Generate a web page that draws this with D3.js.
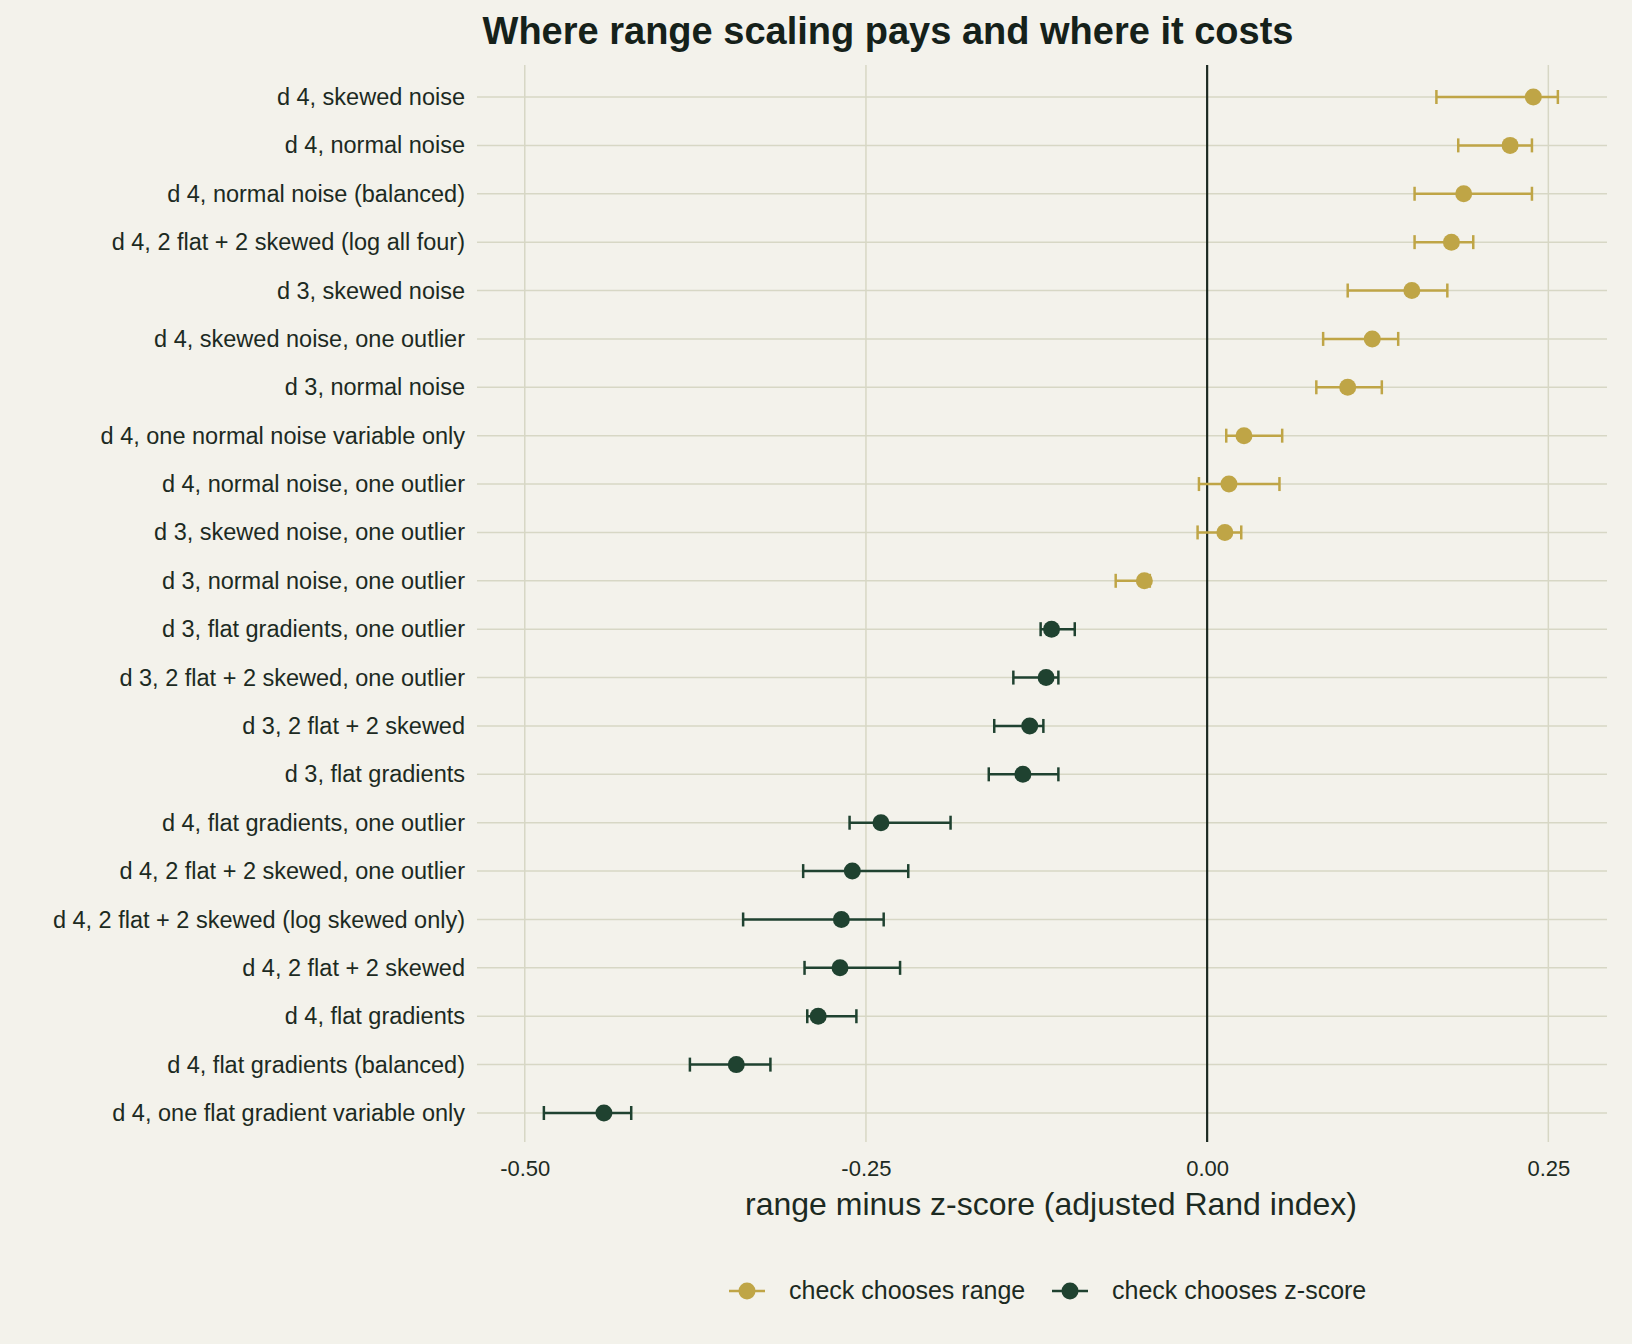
<!DOCTYPE html>
<html><head><meta charset="utf-8">
<script src="https://cdn.jsdelivr.net/npm/d3@7"></script>
<style>body{margin:0;background:#f3f2eb}text{font-family:"Liberation Sans",Arial,sans-serif}</style>
</head><body><div id="chart"></div>
<script>
const labels = ["d 4, skewed noise","d 4, normal noise","d 4, normal noise (balanced)","d 4, 2 flat + 2 skewed (log all four)","d 3, skewed noise","d 4, skewed noise, one outlier","d 3, normal noise","d 4, one normal noise variable only","d 4, normal noise, one outlier","d 3, skewed noise, one outlier","d 3, normal noise, one outlier","d 3, flat gradients, one outlier","d 3, 2 flat + 2 skewed, one outlier","d 3, 2 flat + 2 skewed","d 3, flat gradients","d 4, flat gradients, one outlier","d 4, 2 flat + 2 skewed, one outlier","d 4, 2 flat + 2 skewed (log skewed only)","d 4, 2 flat + 2 skewed","d 4, flat gradients","d 4, flat gradients (balanced)","d 4, one flat gradient variable only"];
const est = [0.239,0.222,0.188,0.179,0.150,0.121,0.103,0.027,0.016,0.013,-0.046,-0.114,-0.118,-0.130,-0.135,-0.239,-0.260,-0.268,-0.269,-0.285,-0.345,-0.442];
const lo = [0.168,0.184,0.152,0.152,0.103,0.085,0.080,0.014,-0.006,-0.007,-0.067,-0.122,-0.142,-0.156,-0.160,-0.262,-0.296,-0.340,-0.295,-0.293,-0.379,-0.486];
const hi = [0.257,0.238,0.238,0.195,0.176,0.140,0.128,0.055,0.053,0.025,-0.042,-0.097,-0.109,-0.120,-0.109,-0.188,-0.219,-0.237,-0.225,-0.257,-0.320,-0.422];
const xTicks = [-0.5,-0.25,0,0.25];
const colGold = "#bfa546", colGreen = "#1f4230", ink = "#1c2a22";

const W = 1632, H = 1344;
const svg = d3.select("#chart").append("svg").attr("width", W).attr("height", H);
svg.append("rect").attr("width", W).attr("height", H).attr("fill", "#f3f2eb");

const x = d3.scaleLinear().domain([-0.535, 0.293]).range([477, 1607]);
const y = d3.scalePoint().domain(labels).range([97, 1113]);

const grid = svg.append("g");
grid.selectAll("line.h").data(labels).join("line")
  .attr("x1", 477).attr("x2", 1607).attr("y1", d => y(d)).attr("y2", d => y(d))
  .attr("stroke", "#d7d7c5").attr("stroke-width", 1.5);
grid.selectAll("line.v").data(xTicks.filter(t => t !== 0)).join("line")
  .attr("x1", d => x(d)).attr("x2", d => x(d)).attr("y1", 65).attr("y2", 1142)
  .attr("stroke", "#d7d7c5").attr("stroke-width", 1.5);
svg.append("line").attr("x1", x(0)).attr("x2", x(0)).attr("y1", 65).attr("y2", 1142)
  .attr("stroke", ink).attr("stroke-width", 2.2);

const yAxis = svg.append("g").attr("transform", "translate(477,0)")
  .call(d3.axisLeft(y).tickSize(0).tickPadding(12));
yAxis.select(".domain").remove();
yAxis.selectAll("text").attr("font-size", 23.5).attr("fill", ink);

const xAxis = svg.append("g").attr("transform", "translate(0,1150)")
  .call(d3.axisBottom(x).tickValues(xTicks).tickSize(0).tickPadding(10).tickFormat(d => d.toFixed(2)));
xAxis.select(".domain").remove();
xAxis.selectAll("text").attr("font-size", 22).attr("fill", ink);

const color = i => i <= 10 ? colGold : colGreen;
const rows = svg.append("g").selectAll("g").data(labels).join("g");
rows.append("line").attr("x1", (d, i) => x(lo[i])).attr("x2", (d, i) => x(hi[i]))
  .attr("y1", d => y(d)).attr("y2", d => y(d)).attr("stroke", (d, i) => color(i)).attr("stroke-width", 2.5);
[lo, hi].forEach(arr => rows.append("line")
  .attr("x1", (d, i) => x(arr[i])).attr("x2", (d, i) => x(arr[i]))
  .attr("y1", d => y(d) - 7).attr("y2", d => y(d) + 7)
  .attr("stroke", (d, i) => color(i)).attr("stroke-width", 2.5));
rows.append("circle").attr("cx", (d, i) => x(est[i])).attr("cy", d => y(d)).attr("r", 8.5)
  .attr("fill", (d, i) => color(i));

svg.append("text").attr("x", 888).attr("y", 44).attr("text-anchor", "middle")
  .attr("font-size", 38).attr("font-weight", "bold").attr("fill", "#15211a")
  .text("Where range scaling pays and where it costs");
svg.append("text").attr("x", 1051).attr("y", 1215).attr("text-anchor", "middle")
  .attr("font-size", 32).attr("fill", ink).text("range minus z-score (adjusted Rand index)");

const legend = [["check chooses range", colGold, 747], ["check chooses z-score", colGreen, 1070]];
legend.forEach(([t, c, lx]) => {
  svg.append("line").attr("x1", lx - 18).attr("x2", lx + 18).attr("y1", 1291).attr("y2", 1291)
    .attr("stroke", c).attr("stroke-width", 2.5);
  svg.append("circle").attr("cx", lx).attr("cy", 1291).attr("r", 8.5).attr("fill", c);
  svg.append("text").attr("x", lx + 42).attr("y", 1299).attr("font-size", 25).attr("fill", ink).text(t);
});
</script></body></html>
